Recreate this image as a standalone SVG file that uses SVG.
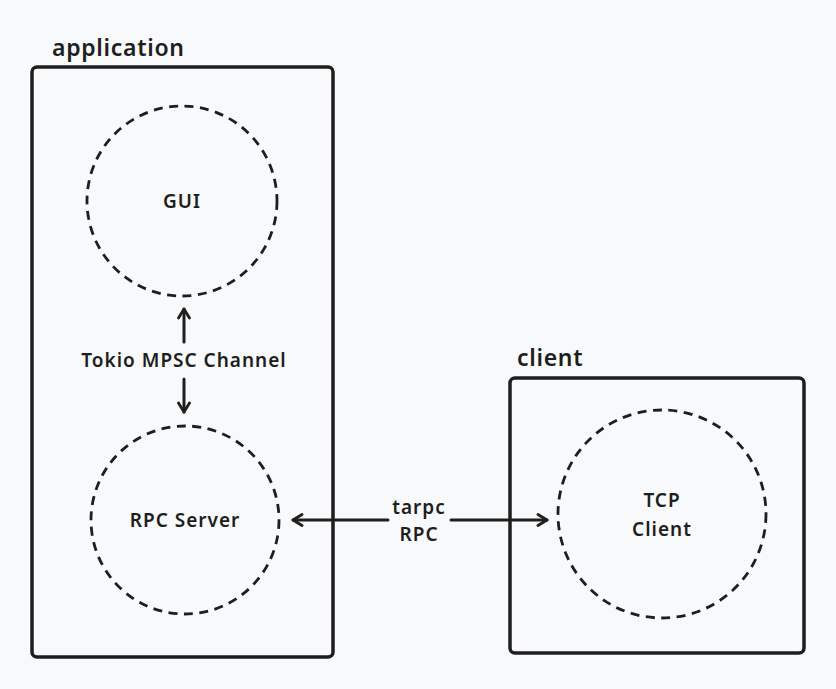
<svg xmlns="http://www.w3.org/2000/svg" width="836" height="689" viewBox="0 0 836 689">
<style>
.bg{fill:#f8f9fa}
.box{fill:none;stroke:#1e1e1e;stroke-width:3.5}
.node{fill:none;stroke:#1e1e1e;stroke-width:2.8;stroke-dasharray:9 6.5}
.lbl{font-family:"Noto Sans","Liberation Sans",sans-serif;font-weight:600;font-size:19px;fill:#1e1e1e;text-anchor:middle;letter-spacing:1px}
.title{font-family:"Noto Sans","Liberation Sans",sans-serif;font-weight:600;font-size:23px;fill:#1e1e1e;letter-spacing:0.7px}
.conn{fill:none;stroke:#1e1e1e;stroke-width:3;stroke-linecap:round}
</style>
<defs>
<marker id="ah" viewBox="0 0 14 14" refX="12" refY="7" markerWidth="14" markerHeight="14" markerUnits="userSpaceOnUse" orient="auto-start-reverse">
<path d="M3,1.5 L12,7 L3,12.5" fill="none" stroke="#1e1e1e" stroke-width="2.8" stroke-linecap="round" stroke-linejoin="round"/>
</marker>
</defs>
<rect class="bg" x="0" y="0" width="836" height="689"/>
<g id="application">
<rect class="box" x="32" y="67" width="301" height="590" rx="5"/>
<text class="title" x="52" y="56">application</text>
</g>
<g id="client">
<rect class="box" x="510" y="378" width="294" height="275" rx="5"/>
<text class="title" x="517" y="366">client</text>
</g>
<g id="gui">
<circle class="node" cx="182" cy="201" r="95"/>
<text class="lbl" x="182" y="208">GUI</text>
</g>
<g id="rpc-server">
<circle class="node" cx="185" cy="520" r="94"/>
<text class="lbl" x="185" y="527">RPC Server</text>
</g>
<g id="tcp-client">
<circle class="node" cx="662" cy="514" r="104"/>
<text class="lbl" x="662" y="507">TCP</text>
<text class="lbl" x="662" y="536">Client</text>
</g>
<g id="connectors">
<line class="conn" x1="184" y1="342" x2="184" y2="309" marker-end="url(#ah)"/>
<line class="conn" x1="184" y1="379" x2="184" y2="412" marker-end="url(#ah)"/>
<text class="lbl" x="184" y="367">Tokio MPSC Channel</text>
<line class="conn" x1="388" y1="520" x2="293" y2="520" marker-end="url(#ah)"/>
<line class="conn" x1="451" y1="520" x2="547" y2="520" marker-end="url(#ah)"/>
<text class="lbl" x="419" y="514">tarpc</text>
<text class="lbl" x="419" y="541">RPC</text>
</g>
</svg>
